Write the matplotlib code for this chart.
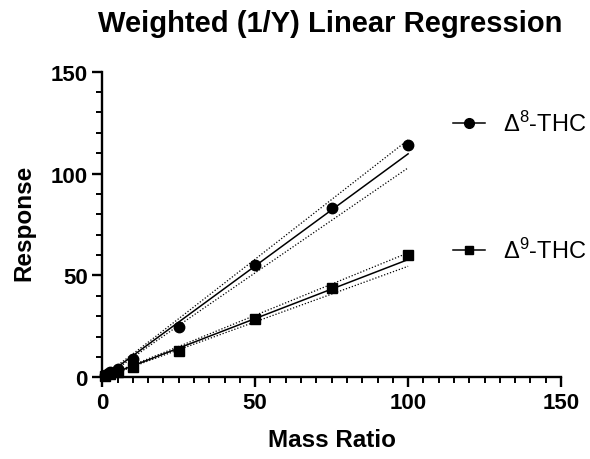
import numpy as np
import matplotlib
matplotlib.use("Agg")
import matplotlib.pyplot as plt
from matplotlib.ticker import MultipleLocator

plt.rcParams['font.family'] = ['Liberation Sans', 'DejaVu Sans']
plt.rcParams['mathtext.fontset'] = 'custom'
plt.rcParams['mathtext.rm'] = 'Liberation Sans'
plt.rcParams['mathtext.it'] = 'Liberation Sans:italic'
plt.rcParams['mathtext.bf'] = 'Liberation Sans:bold'

# ---- data ----
mass_ratio = [1, 2.5, 5, 10, 25, 50, 75, 100]
d8_response = [1.1, 2.6, 4.2, 9.0, 24.6, 55.0, 83.0, 114.0]
d9_response = [0.6, 1.4, 2.5, 4.9, 12.8, 28.8, 43.8, 60.1]
series_names = ["$^{8}$-THC", "$^{9}$-THC"]
x_ticks = [0, 50, 100, 150]
y_ticks = [0, 50, 100, 150]
t_crit = 2.447  # t(0.975, df=6)


def weighted_fit(x, y):
    x = np.asarray(x, float)
    y = np.asarray(y, float)
    w = 1.0 / y
    sw = w.sum()
    xm = (w * x).sum() / sw
    ym = (w * y).sum() / sw
    sxx = (w * (x - xm) ** 2).sum()
    slope = (w * (x - xm) * (y - ym)).sum() / sxx
    icpt = ym - slope * xm
    res = y - (icpt + slope * x)
    s2 = (w * res ** 2).sum() / (len(x) - 2)
    xs = np.linspace(x.min(), x.max(), 200)
    yf = icpt + slope * xs
    se = np.sqrt(s2 * (1.0 / sw + (xs - xm) ** 2 / sxx))
    return xs, yf, yf - t_crit * se, yf + t_crit * se


W, H = 590, 460
fig = plt.figure(figsize=(W / 100, H / 100), dpi=100)
ax = fig.add_axes([102.3 / W, 1 - 378.3 / H, (561 - 102.3) / W, (378.3 - 72.7) / H])

ax.set_xlim(0, 150)
ax.set_ylim(0, 150)

markers = ['o', 's']
for yv, mk in zip([d8_response, d9_response], markers):
    xs, yf, lo, hi = weighted_fit(mass_ratio, yv)
    ax.plot(xs, yf, color='black', lw=1.1, zorder=3)
    ax.plot(xs, lo, color='black', lw=0.9, ls=(0, (1, 1.5)), zorder=3)
    ax.plot(xs, hi, color='black', lw=0.9, ls=(0, (1, 1.5)), zorder=3)
    ax.plot(mass_ratio, yv, ls='none', marker=mk, ms=7.5 if mk == 'o' else 7,
            color='black', zorder=4, clip_on=False)

for s in ['top', 'right']:
    ax.spines[s].set_visible(False)
for s in ['left', 'bottom']:
    ax.spines[s].set_linewidth(1.7)

ax.set_xticks(x_ticks)
ax.set_yticks(y_ticks)
ax.xaxis.set_minor_locator(MultipleLocator(5))
ax.yaxis.set_minor_locator(MultipleLocator(10))
ax.tick_params(which='major', length=7.5, width=1.7, labelsize=16, pad=3)
ax.tick_params(which='minor', length=4, width=1.4)
for lab in ax.get_xticklabels() + ax.get_yticklabels():
    lab.set_fontweight('bold')

fig.text(330 / W, 1 - 24 / H, "Weighted (1/Y) Linear Regression", ha='center', va='center',
         fontsize=21, fontweight='bold')
fig.text(332 / W, 1 - 441 / H, "Mass Ratio", ha='center', va='center',
         fontsize=17.5, fontweight='bold')
fig.text(24 / W, 1 - 223 / H, "Response", ha='center', va='center', rotation=90,
         fontsize=17.5, fontweight='bold')

# legend
leg_y = [124, 251]
for name, mk, ly in zip(series_names, markers, leg_y):
    yy = 1 - ly / H
    fig.add_artist(plt.Line2D([453 / W, 485 / W], [yy, yy], color='black', lw=1.1,
                              transform=fig.transFigure))
    fig.add_artist(plt.Line2D([469 / W], [yy], marker=mk, ms=7 if mk == 'o' else 6,
                              color='black', transform=fig.transFigure))
    fig.text(503 / W, yy, "\u0394" + name, ha='left', va='center', fontsize=17)

fig.savefig("out.png", dpi=100)
